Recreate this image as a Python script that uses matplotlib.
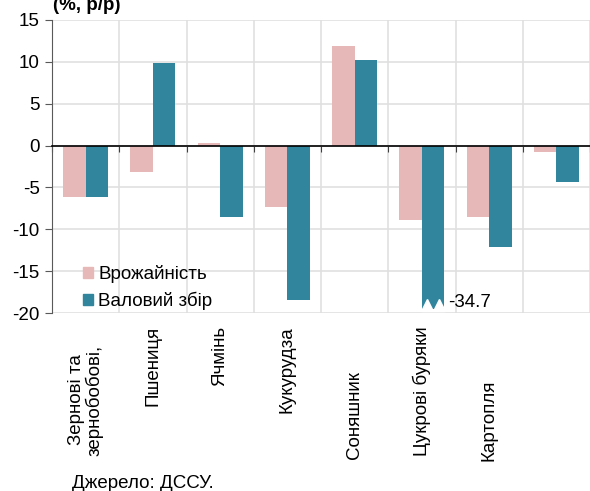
import matplotlib.pyplot as plt
import numpy as np
from matplotlib.patches import Patch

plt.rcParams['font.family'] = ['Liberation Sans', 'DejaVu Sans']

W, H = 590, 491

categories = ["Зернові та\nзернобобові,", "Пшениця", "Ячмінь", "Кукурудза",
              "Соняшник", "Цукрові буряки", "Картопля", ""]
yield_vals = [-6.2, -3.2, 0.3, -7.3, 11.9, -8.9, -8.5, -0.8]
harvest_vals = [-6.1, 9.9, -8.5, -18.4, 10.2, -34.7, -12.1, -4.4]
yticks = [15, 10, 5, 0, -5, -10, -15, -20]

c_yield = "#e6b8b7"
c_harv = "#31859c"
ymin, ymax = -20, 15
cut = -19.5  # bars below this are drawn broken
fs = 13.5

fig = plt.figure(figsize=(W / 100, H / 100), dpi=100)
ax = fig.add_axes([52 / W, 1 - 313 / H, 538 / W, 293 / H])

x = np.arange(len(categories))
bw = 0.333
h_draw = [max(v, cut) for v in harvest_vals]
ax.bar(x - bw / 2, yield_vals, bw, color=c_yield, zorder=3)
ax.bar(x + bw / 2, h_draw, bw, color=c_harv, zorder=3)

# break marks + label for clipped bar
for i, v in enumerate(harvest_vals):
    if v < cut:
        ax.plot([x[i] + bw * 0.25, x[i] + bw * 0.75], [cut + 0.5, cut + 0.5],
                ls="none", marker="^", ms=8, color="white", zorder=4)
        ax.text(x[i] + bw + 0.06, cut + 0.7, f"{v:.1f}", fontsize=fs,
                va="center", ha="left", zorder=5)

ax.set_xlim(-0.5, -0.5 + 538 / 67.8)
ax.set_ylim(ymin, ymax)
ax.set_yticks(yticks)
ax.set_yticklabels([str(t) for t in yticks], fontsize=fs)
ax.tick_params(axis="y", length=5, color="#595959", pad=4)

ax.set_xticks(np.arange(len(categories) + 1) - 0.5)
ax.set_xticklabels([])
ax.tick_params(axis="x", length=4, color="#404040", direction="out")
ax.spines["bottom"].set_position(("data", 0))
ax.spines["bottom"].set_color("black")
ax.spines["bottom"].set_linewidth(1.2)
ax.spines["bottom"].set_zorder(5)
ax.spines["left"].set_color("#595959")
ax.spines["top"].set_visible(False)
ax.spines["right"].set_visible(False)

ax.grid(True, color="#e0e0e0", lw=1.2, zorder=0)
ax.set_axisbelow(True)

# category labels, placed like in the original
lab_pos = [(400, "center"), (326, "top"), (326, "top"), (326, "top"),
           (459, "bottom"), (326, "top"), (461, "bottom"), (326, "top")]
for i, lab in enumerate(categories):
    xp = ax.transData.transform((x[i], 0))[0] / fig.dpi / fig.get_figwidth()
    y_px, va = lab_pos[i]
    fig.text(xp, 1 - y_px / H, lab, rotation=90, ha="center", va=va,
             fontsize=fs, multialignment="center", linespacing=1.05)

handles = [Patch(color=c_yield), Patch(color=c_harv)]
ax.legend(handles, ["Врожайність", "Валовий збір"], loc="upper left",
          bbox_to_anchor=((70 - 52) / 538, (313 - 252) / 293), frameon=False,
          fontsize=fs, handlelength=0.55, handleheight=0.55, handletextpad=0.25,
          labelspacing=0.45, borderpad=0.2)

fig.text(53 / W, 1 - 5 / H, "(%, р/р)", fontsize=fs, fontweight="bold",
         ha="left", va="center")
fig.text(72 / W, 1 - 483 / H, "Джерело: ДССУ.", fontsize=fs, ha="left",
         va="center")

fig.savefig("out.png", dpi=100)
